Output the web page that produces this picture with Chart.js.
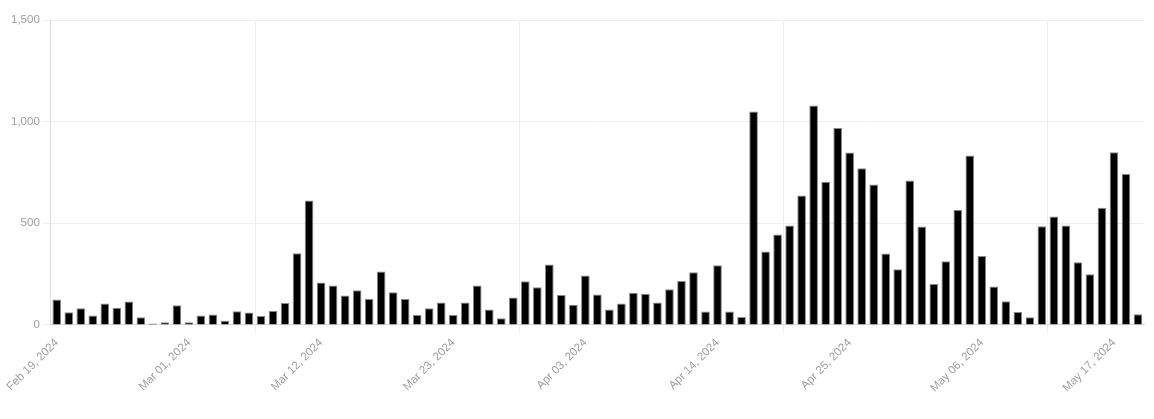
<!DOCTYPE html>
<html>
<head>
<meta charset="utf-8">
<script src="https://cdn.jsdelivr.net/npm/chart.js@4.4.1/dist/chart.umd.min.js"></script>
<style>
    html, body { margin: 0; padding: 0; background: #fff; }
    #wrap { width: 1154px; height: 419px; }
</style>
</head>
<body>
<div id="wrap"><canvas id="dailyChart"></canvas></div>
<script>
    // first day of the series, one bar per day
    var startDay = 'Feb 19, 2024'
    var dailyCounts = [
        125, 62, 82, 46, 105, 85, 115, 38, 7, 13,
        97, 13, 46, 51, 21, 67, 61, 44, 69, 108,
        353, 612, 209, 194, 145, 171, 128, 263, 161, 128,
        49, 82, 110, 49, 110, 194, 76, 33, 135, 215,
        185, 297, 148, 100, 243, 150, 76, 105, 159, 154,
        110, 176, 216, 259, 66, 294, 66, 39, 1050, 361,
        445, 489, 637, 1079, 705, 969, 848, 771, 691, 351,
        274, 710, 484, 202, 313, 566, 833, 339, 189, 117,
        64, 38, 486, 533, 489, 309, 250, 576, 850, 743,
        53
    ]
    var yTicks = [0, 500, 1000, 1500]
    var xTickCount = 9

    var dayLabels = []
    var d = new Date(startDay)
    for (var i = 0; i < dailyCounts.length; i++) {
        dayLabels.push(d.toLocaleDateString('en-US', { month: 'short', day: '2-digit', year: 'numeric' }))
        d.setDate(d.getDate() + 1)
    }

    Chart.defaults.font.family = '"Liberation Sans", Arial, sans-serif'
    Chart.defaults.font.size = 11.5
    Chart.defaults.color = '#9e9e9e'

    const ctx = document.getElementById('dailyChart').getContext('2d')
    const dailyChart = new Chart(ctx, {
        type: 'bar',
        data: {
            labels: dayLabels,
            datasets: [{
                label: 'Daily',
                data: dailyCounts,
                backgroundColor: '#000',
                borderColor: '#888',
                borderWidth: 1
            }]
        },
        options: {
            responsive: true,
            maintainAspectRatio: false,
            animation: false,
            layout: {
                padding: { top: 20, right: 10, bottom: 21, left: 8 }
            },
            plugins: {
                legend: { display: false },
                tooltip: { enabled: false }
            },
            scales: {
                x: {
                    grid: {
                        // only every other x grid line shows
                        color: function (c) { return c.index % 2 === 0 ? '#eee' : 'rgba(0,0,0,0)' }
                    },
                    border: { color: '#ddd' },
                    ticks: {
                        autoSkip: true,
                        maxTicksLimit: xTickCount,
                        maxRotation: 45,
                        minRotation: 45
                    }
                },
                y: {
                    beginAtZero: true,
                    min: yTicks[0],
                    max: yTicks[yTicks.length - 1],
                    grid: { color: '#eee' },
                    border: { color: '#ddd' },
                    ticks: {
                        stepSize: yTicks[1] - yTicks[0]
                    }
                }
            }
        }
    })
</script>
</body>
</html>
